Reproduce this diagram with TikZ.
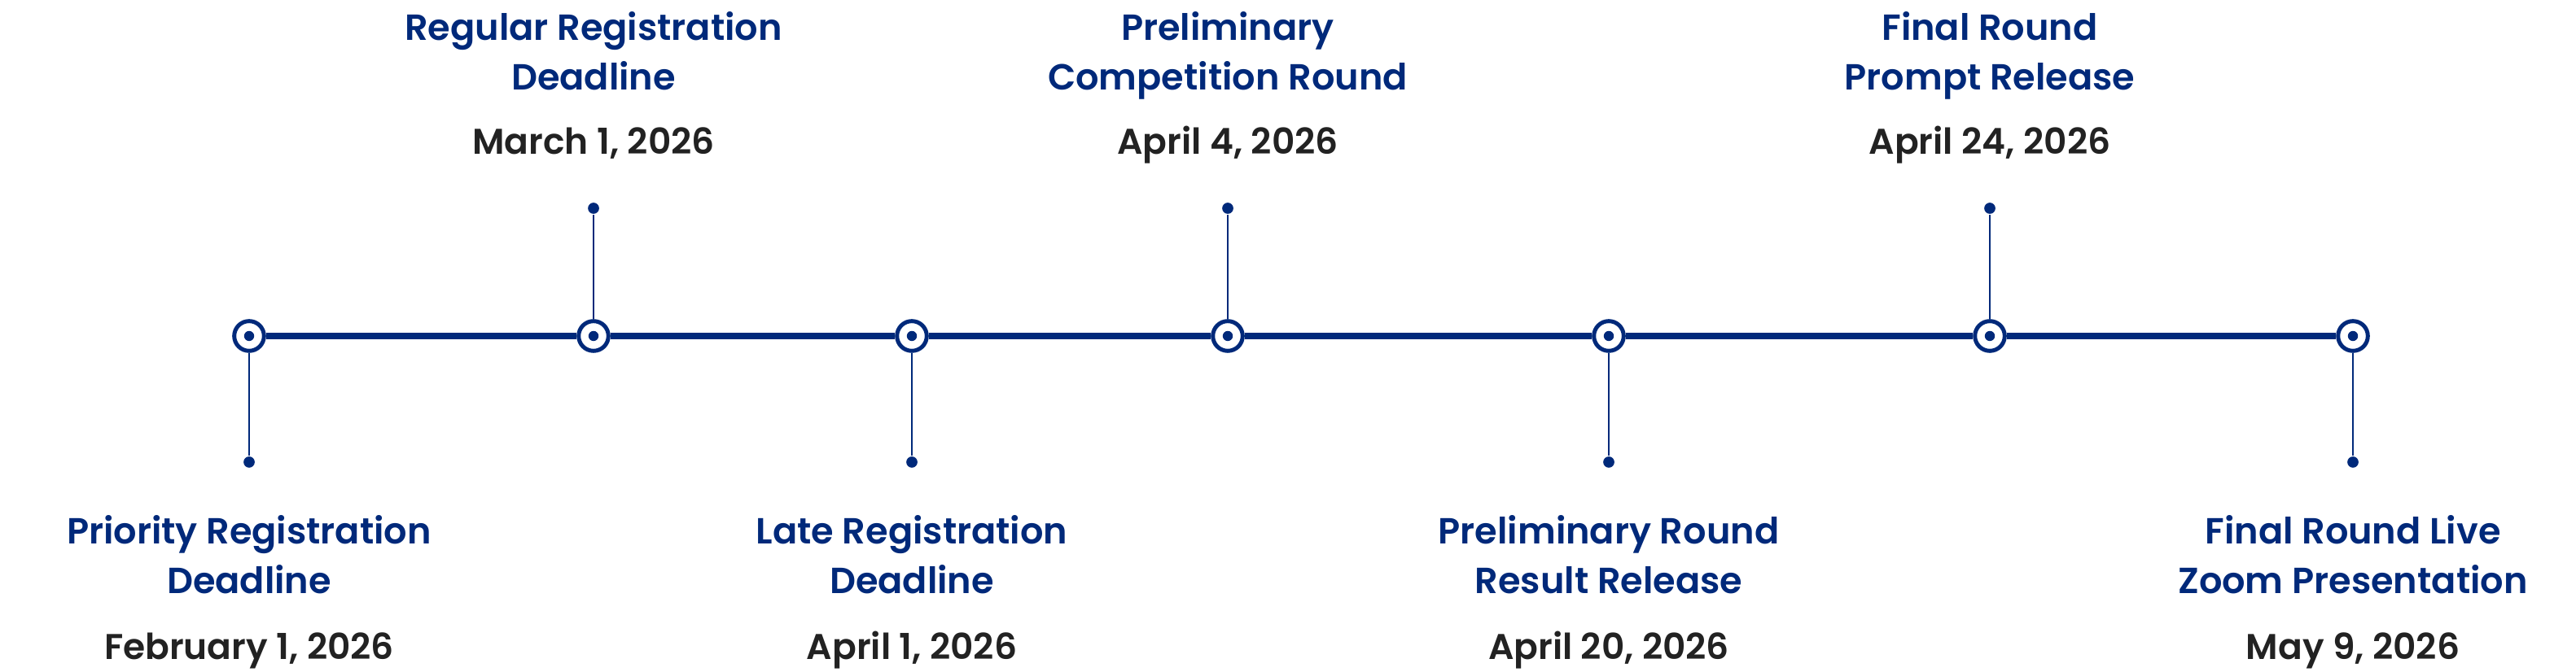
\documentclass[tikz,border=0pt]{standalone}
\usepackage{fontspec}
\setmainfont{Poppins}
\IfFontExistsTF{Poppins SemiBold}
  {\newfontfamily\popSB{Poppins SemiBold}}
  {\newfontfamily\popSB{Poppins}[UprightFont=*, BoldFont=*]\let\popSBx\popSB\def\popSB{\popSBx\bfseries}}
\usetikzlibrary{positioning}
\definecolor{cNavy}{RGB}{0,41,122}
\definecolor{cDate}{RGB}{34,34,34}
\tikzset{
	ring/.style   ={circle, draw=cNavy, line width=1.42pt, fill=white, minimum size=0.366cm, inner sep=0pt,
	                path picture={\fill[cNavy] (path picture bounding box.center) circle (0.062);}},
	tipdot/.style ={circle, fill=cNavy, minimum size=0.137cm, inner sep=0pt},
	spine/.style  ={cNavy, line width=2.47pt},
	stem/.style   ={cNavy, line width=0.66pt},
	what/.style   ={font=\popSB\fontsize{12.7}{17.4}\selectfont, text=cNavy, align=center, inner sep=0pt, anchor=base},
	when/.style   ={font=\popSB\fontsize{12.5}{15}\selectfont, text=cDate, inner sep=0pt, anchor=base},
}
\begin{document}
\begin{tikzpicture}
	\useasboundingbox (0,0) rectangle (31.64,8.26);
	% markers on the time line
	\node[ring] (m1) at (3.06,4.13) {};
	\node[ring] (m2) at (7.29,4.13) {};
	\node[ring] (m3) at (11.20,4.13) {};
	\node[ring] (m4) at (15.08,4.13) {};
	\node[ring] (m5) at (19.76,4.13) {};
	\node[ring] (m6) at (24.44,4.13) {};
	\node[ring] (m7) at (28.90,4.13) {};
	\draw[spine] (m1) -- (m2) -- (m3) -- (m4) -- (m5) -- (m6) -- (m7);
	% stem ends
	\node[tipdot] (d1) at (3.06,2.58) {};
	\node[tipdot] (d2) at (7.29,5.70) {};
	\node[tipdot] (d3) at (11.20,2.58) {};
	\node[tipdot] (d4) at (15.08,5.70) {};
	\node[tipdot] (d5) at (19.76,2.58) {};
	\node[tipdot] (d6) at (24.44,5.70) {};
	\node[tipdot] (d7) at (28.90,2.58) {};
	\foreach \i in {1,...,7}
		\draw[stem] (m\i) -- (d\i);
	% events below the line
	\node[what] (t1) at (3.06,0.96) {Priority Registration\\Deadline};
	\node[when] (w1) at (3.06,0.15) {February 1, 2026};
	\node[what] (t3) at (11.20,0.96) {Late Registration\\Deadline};
	\node[when] (w3) at (11.20,0.15) {April 1, 2026};
	\node[what] (t5) at (19.76,0.96) {Preliminary Round\\Result Release};
	\node[when] (w5) at (19.76,0.15) {April 20, 2026};
	\node[what] (t7) at (28.90,0.96) {Final Round Live\\Zoom Presentation};
	\node[when] (w7) at (28.90,0.15) {May 9, 2026};
	% events above the line
	\node[what] (t2) at (7.29,7.15) {Regular Registration\\Deadline};
	\node[when] (w2) at (7.29,6.36) {March 1, 2026};
	\node[what] (t4) at (15.08,7.15) {Preliminary\\Competition Round};
	\node[when] (w4) at (15.08,6.36) {April 4, 2026};
	\node[what] (t6) at (24.44,7.15) {Final Round\\Prompt Release};
	\node[when] (w6) at (24.44,6.36) {April 24, 2026};
\end{tikzpicture}
\end{document}
